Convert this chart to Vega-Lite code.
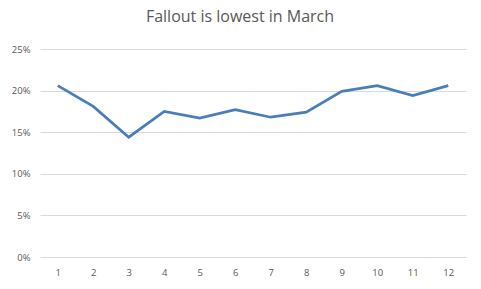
{
  "$schema": "https://vega.github.io/schema/vega-lite/v6.json",
  "autosize": "none",
  "width": 426,
  "height": 208,
  "padding": {"left": 40, "top": 49, "right": 15, "bottom": 32},
  "background": "white",
  "title": {
    "text": "Fallout is lowest in March",
    "font": "Open Sans",
    "fontSize": 16,
    "fontWeight": "normal",
    "color": "#595959",
    "anchor": "middle",
    "dx": -13,
    "offset": 19
  },
  "data": {
    "values": [
      {"month": 1, "fallout": 0.206},
      {"month": 2, "fallout": 0.181},
      {"month": 3, "fallout": 0.144},
      {"month": 4, "fallout": 0.175},
      {"month": 5, "fallout": 0.167},
      {"month": 6, "fallout": 0.177},
      {"month": 7, "fallout": 0.168},
      {"month": 8, "fallout": 0.174},
      {"month": 9, "fallout": 0.199},
      {"month": 10, "fallout": 0.206},
      {"month": 11, "fallout": 0.194},
      {"month": 12, "fallout": 0.206}
    ]
  },
  "mark": {"type": "line", "color": "#4A7EBB", "strokeWidth": 2.75},
  "encoding": {
    "x": {
      "field": "month",
      "type": "ordinal",
      "scale": {"type": "point", "padding": 0.5},
      "axis": {
        "title": null,
        "labelAngle": 0,
        "ticks": false,
        "domain": false,
        "grid": false,
        "labelPadding": 10,
        "labelFont": "Open Sans",
        "labelFontSize": 9.5,
        "labelColor": "#595959"
      }
    },
    "y": {
      "field": "fallout",
      "type": "quantitative",
      "scale": {"domain": [0, 0.25]},
      "axis": {
        "title": null,
        "values": [0, 0.05, 0.1, 0.15, 0.2, 0.25],
        "format": ".0%",
        "ticks": false,
        "domain": false,
        "gridColor": "#D9D9D9",
        "gridWidth": 1,
        "labelPadding": 10,
        "labelFont": "Open Sans",
        "labelFontSize": 9.5,
        "labelColor": "#595959"
      }
    }
  },
  "config": {"view": {"stroke": null}}
}
